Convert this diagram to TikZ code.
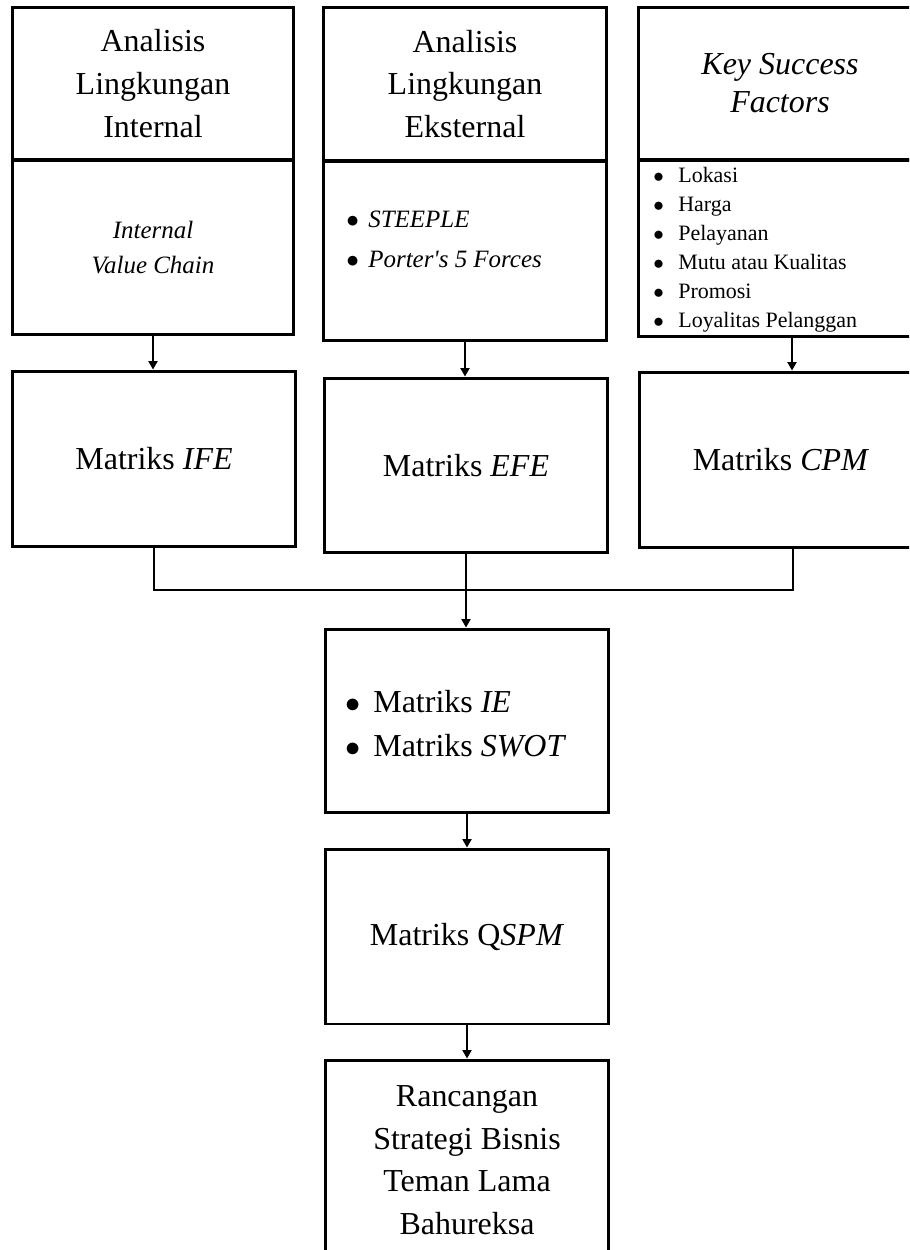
\documentclass[tikz,border=0pt]{standalone}
\usepackage{fontspec}
\setmainfont{Liberation Serif}
\usetikzlibrary{arrows.meta}

\newcommand\ttl{\fontsize{18.2pt}{24.4pt}\selectfont}
\newcommand\ksftl{\fontsize{18.2pt}{21.6pt}\selectfont}
\newcommand\sedang{\fontsize{14.2pt}{20.4pt}\selectfont}
\newcommand\kecil{\fontsize{12.5pt}{16.5pt}\selectfont}
\newcommand\butir[1]{\makebox[#1][l]{$\bullet$}}

\begin{document}
\begin{tikzpicture}[x=0.02cm,y=-0.02cm,
  box/.style={draw, line width=1.7pt, inner sep=0pt, align=center, font=\ttl},
  line/.style={line width=1.4pt},
  arr/.style={line, -{Triangle[length=0.17cm,width=0.18cm]}}]

\useasboundingbox (0,0) rectangle (909,1250);
\clip (0,0) rectangle (909,1250);

% kolom kiri
\node[box, minimum width=5.64cm, minimum height=3.06cm] (intA) at (153,83.5) {Analisis\\Lingkungan\\Internal};
\node[box, minimum width=5.64cm, minimum height=3.5cm, font=\sedang] (vchA) at (153,247.5) {\textit{Internal}\\\textit{Value Chain}};
\node[box, minimum width=5.68cm, minimum height=3.52cm] (ife) at (154,459) {Matriks \textit{IFE}};

% kolom tengah
\node[box, minimum width=5.68cm, minimum height=3.08cm] (extB) at (465,84) {Analisis\\Lingkungan\\Eksternal};
\node[box, minimum width=5.68cm, minimum height=3.6cm] (toolB) at (465,251) {};
\node[align=left, anchor=west, inner sep=0pt, font=\fontsize{14.2pt}{22.7pt}\selectfont] (toolBtxt) at (346,239)
  {\butir{0.44cm}\textit{STEEPLE}\\\butir{0.44cm}\textit{Porter\textquotesingle s 5 Forces}};
\node[box, minimum width=5.66cm, minimum height=3.5cm] (efe) at (466,465.5) {Matriks \textit{EFE}};

% kolom kanan
\node[box, minimum width=5.68cm, minimum height=3.06cm, font=\ksftl] (ksfC) at (780,83.5) {\textit{Key Success}\\\textit{Factors}};
\node[box, minimum width=5.68cm, minimum height=3.54cm] (listC) at (780,248.5) {};
\node[align=left, anchor=west, inner sep=0pt, font=\kecil] (listCtxt) at (653,250)
  {\butir{0.5cm}Lokasi\\\butir{0.5cm}Harga\\\butir{0.5cm}Pelayanan\\\butir{0.5cm}Mutu atau Kualitas\\\butir{0.5cm}Promosi\\\butir{0.5cm}Loyalitas Pelanggan};
\node[box, minimum width=5.68cm, minimum height=3.52cm] (cpm) at (781,460) {Matriks \textit{CPM}};

% bawah
\node[box, minimum width=5.68cm, minimum height=3.68cm] (ie) at (467,721) {};
\node[align=left, anchor=west, inner sep=0pt, font=\fontsize{18.2pt}{25pt}\selectfont] (ietxt) at (345,724)
  {\butir{0.56cm}Matriks \textit{IE}\\\butir{0.56cm}Matriks \textit{SWOT}};
\node[box, minimum width=5.68cm, minimum height=3.5cm] (qspm) at (467,936.5) {Matriks Q\textit{SPM}};
\node[box, minimum width=5.68cm, minimum height=4cm, font=\fontsize{18.2pt}{24.2pt}\selectfont] (hasil) at (467,1160)
  {Rancangan\\Strategi Bisnis\\Teman Lama\\Bahureksa};

\path (efe.south) ++(0,35.5) coordinate (join);

\draw[arr] (vchA.south) -- (vchA.south |- ife.north);
\draw[arr] (toolB.south) -- (toolB.south |- efe.north);
\draw[arr] ([xshift=0.24cm]listC.south) -- ([xshift=0.24cm]listC.south |- cpm.north);

\draw[line] (ife.south) |- (join);
\draw[line] ([xshift=0.24cm]cpm.south) |- (join);
\draw[arr] (efe.south) -- (efe.south |- ie.north);
\draw[arr] (ie.south) -- (qspm.north);
\draw[arr] (qspm.south) -- (hasil.north);

\end{tikzpicture}
\end{document}
